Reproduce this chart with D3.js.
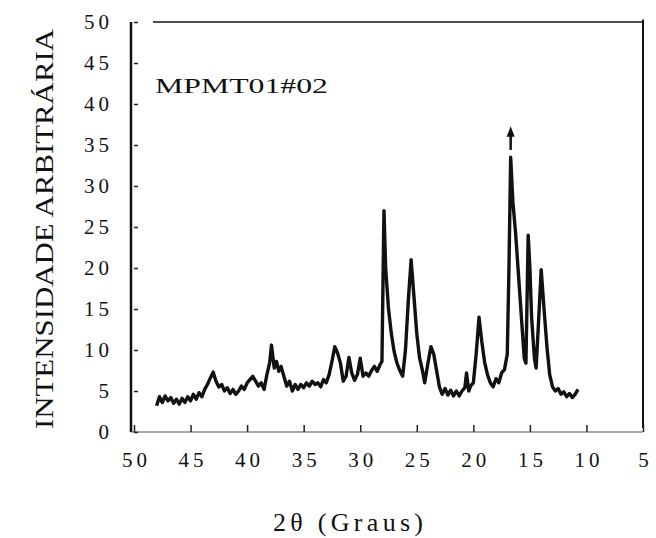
<!DOCTYPE html>
<html lang="pt">
  <head>
    <meta charset="UTF-8" />
    <title>MPMT01#02</title>
    <style>
      body { margin: 0; background: #fff; }
      svg { display: block; }
      .axis text {
        font-family: "Liberation Serif", "DejaVu Serif", serif;
        font-size: 21px;
        letter-spacing: 4px;
        fill: #111;
      }
      .axis line { stroke: #222; stroke-width: 1.5; }
      .axis path { display: none; }
    </style>
  </head>
  <body>
    <div id="app"></div>
    <script src="https://cdn.jsdelivr.net/npm/d3@7"></script>
    <script>
      // 2θ (graus) e intensidade
      const twoTheta = [
        48.0, 47.75, 47.5, 47.25, 47.0, 46.75, 46.5, 46.25, 46.0, 45.75, 45.5, 45.25,
        45.0, 44.75, 44.5, 44.25, 44.0, 43.75, 43.5, 43.25, 43.0, 42.75, 42.5, 42.25,
        42.0, 41.75, 41.5, 41.25, 41.0, 40.75, 40.5, 40.25, 40.0, 39.75, 39.5, 39.25,
        39.0, 38.75, 38.5, 38.25, 38.0, 37.85, 37.6, 37.4, 37.2, 37.0, 36.75, 36.5,
        36.25, 36.0, 35.75, 35.5, 35.25, 35.0, 34.75, 34.5, 34.25, 34.0, 33.75, 33.5,
        33.25, 33.0, 32.75, 32.5, 32.25, 32.0, 31.75, 31.5, 31.25, 31.0, 30.75, 30.5,
        30.25, 30.0, 29.75, 29.5, 29.25, 29.0, 28.75, 28.5, 28.25, 28.08, 27.95, 27.9,
        27.75, 27.5, 27.25, 27.0, 26.75, 26.5, 26.25, 26.0, 25.75, 25.5, 25.25, 25.0,
        24.75, 24.5, 24.3, 24.0, 23.75, 23.5, 23.25, 23.0, 22.75, 22.5, 22.25, 22.0,
        21.75, 21.5, 21.25, 21.0, 20.75, 20.6, 20.4, 20.25, 20.0, 19.75, 19.5, 19.25,
        19.0, 18.75, 18.5, 18.25, 18.0, 17.75, 17.5, 17.25, 17.0, 16.85, 16.7, 16.5,
        16.25, 16.0, 15.75, 15.5, 15.35, 15.15, 15.0, 14.85, 14.6, 14.45, 14.25, 14.0,
        13.75, 13.5, 13.25, 13.0, 12.75, 12.5, 12.25, 12.0, 11.75, 11.5, 11.25, 11.0,
        10.75
      ];
      const intensity = [
        3.2, 4.3, 3.6, 4.4, 3.8, 4.2, 3.5, 4.0, 3.4, 4.1, 3.6, 4.3,
        3.8, 4.6, 4.0, 4.8, 4.3, 5.2, 5.8, 6.6, 7.3, 6.2, 5.5, 5.8,
        5.0, 5.4, 4.7, 5.2, 4.6, 5.0, 5.6, 5.2, 6.0, 6.4, 6.8, 6.2,
        5.6, 6.0, 5.2, 7.0, 8.5, 10.6, 7.8, 8.6, 7.4, 8.0, 6.8, 5.6,
        6.2, 5.0, 5.8, 5.2, 5.8, 5.4, 6.0, 5.6, 6.2, 5.8, 6.0, 5.5,
        6.4, 6.0, 7.0, 8.6, 10.4, 9.6, 8.4, 6.2, 6.8, 9.1, 7.2, 6.3,
        7.0, 9.0, 6.8, 7.2, 6.8, 7.5, 8.0, 7.4, 8.2, 8.6, 22.0, 27.0,
        20.0, 15.0, 12.0, 9.8, 8.4, 7.5, 6.8, 10.0, 16.0, 21.0, 16.5, 12.0,
        9.0, 7.5, 6.0, 8.5, 10.4, 9.5, 7.5, 5.5, 4.6, 5.3, 4.5, 5.1,
        4.4, 5.0, 4.4, 5.0, 5.4, 7.2, 5.0, 5.6, 6.0, 9.5, 14.0, 11.0,
        8.5, 7.0, 6.0, 5.5, 6.5, 6.0, 7.2, 7.6, 9.5, 20.0, 33.5, 28.0,
        24.0, 19.0, 14.0, 9.0, 8.4, 24.0, 20.0, 14.0, 9.0, 7.8, 13.0, 19.8,
        15.0, 10.5, 7.0, 5.5, 5.0, 5.3, 4.6, 4.9, 4.3, 4.7, 4.2, 4.6,
        5.2
      ];
      const xTicks = [50, 45, 40, 35, 30, 25, 20, 15, 10, 5];
      const yTicks = [0, 5, 10, 15, 20, 25, 30, 35, 40, 45, 50];
      const sampleName = "MPMT01#02";
      const xTitle = "2θ (Graus)";
      const yTitle = "INTENSIDADE ARBITRÁRIA";
      const strongestPeak = 16.7;

      const width = 656;
      const height = 538;

      const x = d3.scaleLinear().domain([50, 5]).range([134, 643]);
      const y = d3.scaleLinear().domain([0, 50]).range([432, 22]);

      const svg = d3.select("#app").append("svg")
        .attr("width", width)
        .attr("height", height);

      // moldura
      const frame = svg.append("g").attr("fill", "none").attr("stroke", "#111");
      frame.append("line")
        .attr("x1", 131).attr("x2", 131)
        .attr("y1", y(50)).attr("y2", y(0))
        .attr("stroke-width", 2.5);
      frame.append("line")
        .attr("x1", 153).attr("x2", x(5))
        .attr("y1", y(50)).attr("y2", y(50))
        .attr("stroke-width", 1.5);
      frame.append("line")
        .attr("x1", x(5)).attr("x2", x(5))
        .attr("y1", y(50.3)).attr("y2", y(0.5))
        .attr("stroke-width", 2);
      frame.append("line")
        .attr("x1", 131).attr("x2", x(5))
        .attr("y1", y(0)).attr("y2", y(0))
        .attr("stroke", "#555")
        .attr("stroke-width", 1.2);

      const xAxis = d3.axisBottom(x).tickValues(xTicks).tickSize(-7).tickPadding(20);
      svg.append("g")
        .attr("class", "axis")
        .attr("transform", `translate(0,${y(0)})`)
        .call(xAxis)
        .selectAll("text").attr("dx", "2px");

      const yAxis = d3.axisLeft(y).tickValues(yTicks).tickSize(-5).tickPadding(18);
      svg.append("g")
        .attr("class", "axis")
        .attr("transform", "translate(131,0)")
        .call(yAxis)
        .selectAll("line").attr("x1", 3).attr("x2", 7);

      const line = d3.line()
        .x((d, i) => x(twoTheta[i]))
        .y(d => y(d));

      svg.append("path")
        .datum(intensity)
        .attr("fill", "none")
        .attr("stroke", "#111")
        .attr("stroke-width", 3.4)
        .attr("stroke-linejoin", "round")
        .attr("d", line);

      // seta sobre o pico mais intenso
      const ax = x(strongestPeak);
      svg.append("line")
        .attr("x1", ax).attr("x2", ax)
        .attr("y1", y(34.4)).attr("y2", y(36.4))
        .attr("stroke", "#111").attr("stroke-width", 2.5);
      svg.append("path")
        .attr("d", `M${ax},${y(37.3)} L${ax - 4},${y(36)} L${ax + 4},${y(36)} Z`)
        .attr("fill", "#111");

      svg.append("text")
        .attr("x", 155).attr("y", 93)
        .attr("font-family", "Liberation Serif, DejaVu Serif, serif")
        .attr("font-size", 21)
        .attr("textLength", 173)
        .attr("lengthAdjust", "spacingAndGlyphs")
        .attr("fill", "#111")
        .text(sampleName);

      svg.append("text")
        .attr("x", 273).attr("y", 531)
        .attr("font-family", "Liberation Serif, DejaVu Serif, serif")
        .attr("font-size", 26)
        .attr("textLength", 150)
        .attr("lengthAdjust", "spacing")
        .attr("fill", "#111")
        .text(xTitle);

      svg.append("text")
        .attr("transform", "translate(53,429) rotate(-90)")
        .attr("font-family", "Liberation Serif, DejaVu Serif, serif")
        .attr("font-size", 26)
        .attr("textLength", 400)
        .attr("lengthAdjust", "spacingAndGlyphs")
        .attr("fill", "#111")
        .text(yTitle);
    </script>
  </body>
</html>
